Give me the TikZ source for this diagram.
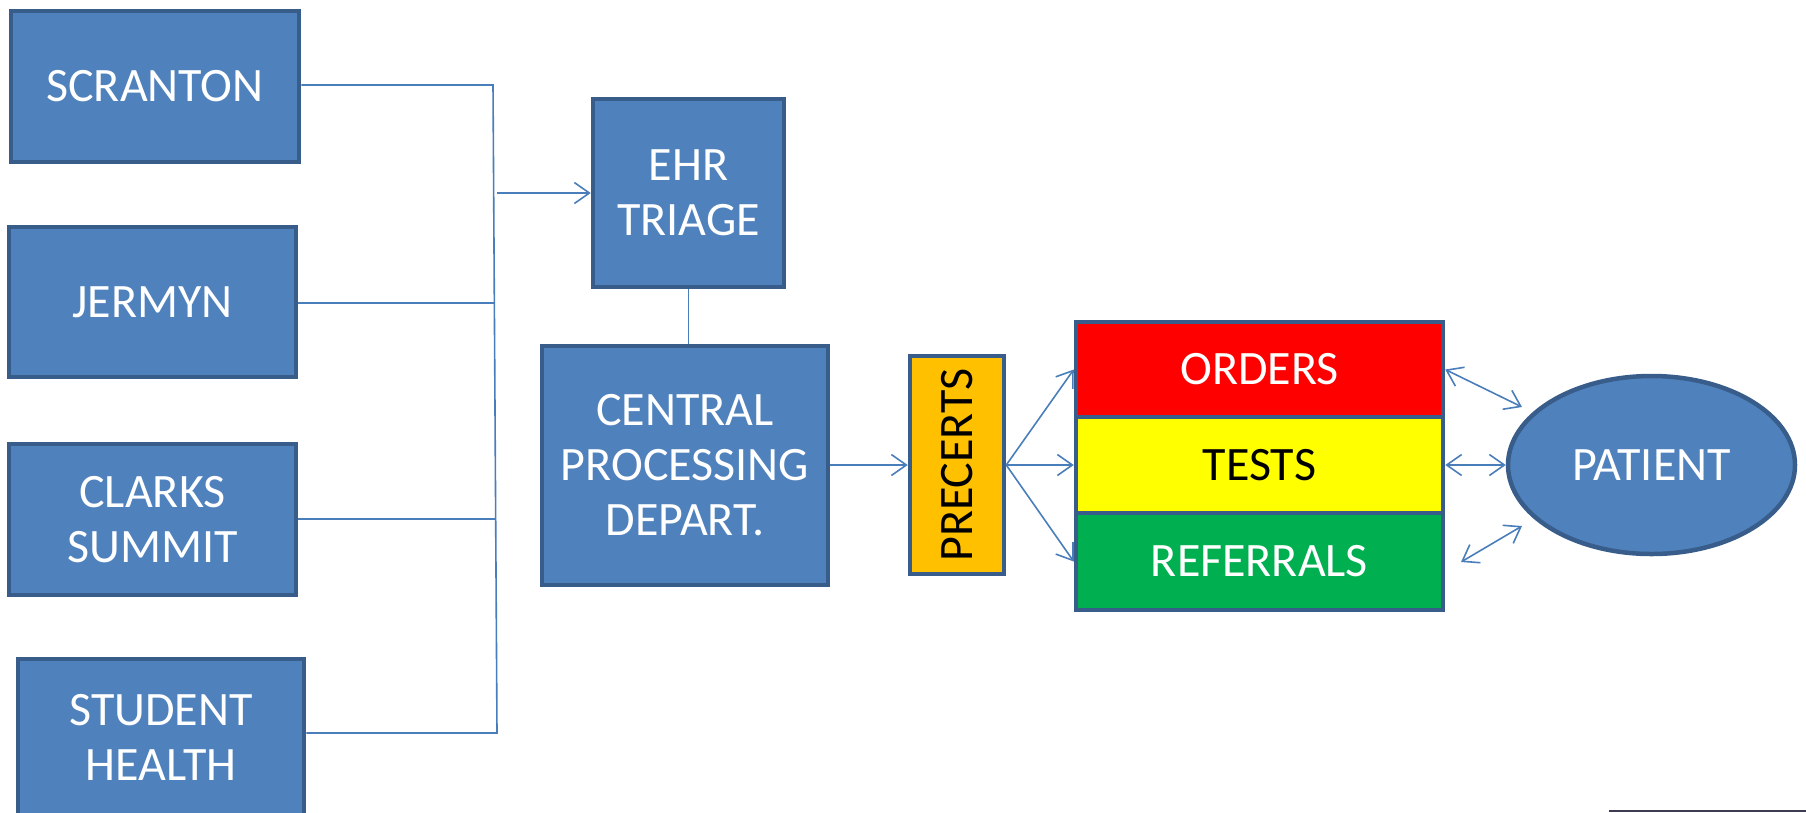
\documentclass[tikz,border=0pt]{standalone}
\usepackage{fontspec}
\setmainfont{Carlito}
\usetikzlibrary{arrows.meta,shapes.geometric}
\definecolor{boxfill}{HTML}{4F81BD}
\definecolor{boxdraw}{HTML}{385D8A}
\definecolor{connblue}{HTML}{4A7EBB}
\definecolor{orangefill}{HTML}{FFC000}
\definecolor{greenfill}{HTML}{00B050}
\definecolor{redfill}{HTML}{FF0000}
\definecolor{yellowfill}{HTML}{FFFF00}
\definecolor{bottomline}{HTML}{3C3C50}
\begin{document}
\begin{tikzpicture}[x=1pt,y=-1pt,
  blockbox/.style={rectangle, draw=boxdraw, line width=4.5pt, fill=boxfill, text=white,
    align=center, inner sep=0pt, font=\fontsize{48}{55}\selectfont},
  patientshape/.style={ellipse, draw=boxdraw, line width=4.5pt, fill=boxfill, text=white,
    inner sep=0pt, font=\fontsize{48}{55}\selectfont},
  connline/.style={draw=connblue, line width=1.6pt},
  arr/.style={connline, -{Straight Barb[length=15pt,width=21pt,line width=1.6pt]}},
  dblarr/.style={connline, {Straight Barb[length=15pt,width=21pt,line width=1.6pt]}-{Straight Barb[length=15pt,width=21pt,line width=1.6pt]}}
]
\useasboundingbox (0,0) rectangle (1806,812);
\clip (0,0) rectangle (1806,812);

% left sites
\node[blockbox, minimum width=288pt, minimum height=151pt] (scr) at (155,86.5) {SCRANTON};
\node[blockbox, minimum width=287pt, minimum height=150pt] (jer) at (152.5,302) {JERMYN};
\node[blockbox, minimum width=287pt, minimum height=151pt] (cla) at (152.5,519.5) {CLARKS\\SUMMIT};
\node[blockbox, minimum width=286pt, minimum height=157pt] (stu) at (161,737.5) {STUDENT\\HEALTH};

% middle
\node[blockbox, minimum width=191pt, minimum height=188pt] (ehr) at (688.5,193) {EHR\\TRIAGE};
\node[blockbox, minimum width=286pt, minimum height=239pt] (cen) at (685,465.5) {CENTRAL\\PROCESSING\\DEPART.};
\node[blockbox, fill=orangefill, text=black, minimum width=94pt, minimum height=218pt] (pre) at (957,465) {\rotatebox{90}{PRECERTS}};

% stacked boxes
\node[blockbox, fill=redfill, minimum width=367pt, minimum height=95pt] (ord) at (1259.5,369.5) {ORDERS};
\node[blockbox, fill=yellowfill, text=black, minimum width=367pt, minimum height=96pt] (tes) at (1259.5,465) {TESTS};
\node[blockbox, fill=greenfill, minimum width=367pt, minimum height=97pt] (ref) at (1259.5,561.5) {REFERRALS};

% patient
\node[patientshape, minimum width=287pt, minimum height=178pt] (pat) at (1651.5,465) {PATIENT};

% collector lines
\coordinate (vtop) at (493,85);
\coordinate (vbot) at (497,733);
\coordinate (vjer) at (494.3,303);
\coordinate (vcla) at (495.5,519);
\coordinate (varr) at (497,193);
\draw[connline] (scr.east |- vtop) -- (vtop) -- (vbot) -- (stu.east |- vbot);
\draw[connline] (jer.east |- vjer) -- (vjer);
\draw[connline] (cla.east |- vcla) -- (vcla);
\draw[arr] (varr) -- (ehr.west |- varr);

\draw[connline] (ehr.south) -- (ehr.south |- cen.north);
\draw[arr] (cen.east |- pre.west) -- (pre.west);

% fan from precerts
\draw[arr] (pre.east) -- (ord.west);
\draw[arr] (pre.east) -- (tes.west);
\draw[arr] (pre.east) -- (ref.west);

% to patient
\coordinate (p1) at (1522,407);
\coordinate (r3) at (1461,562);
\coordinate (p3) at (1522,526);
\draw[dblarr] (ord.east) -- (p1);
\draw[dblarr] (tes.east) -- (pat.west);
\draw[dblarr] (r3) -- (p3);

% bottom right line
\coordinate (bl1) at (1609,811);
\coordinate (bl2) at (1806,811);
\draw[bottomline, line width=2pt] (bl1) -- (bl2);
\end{tikzpicture}
\end{document}
